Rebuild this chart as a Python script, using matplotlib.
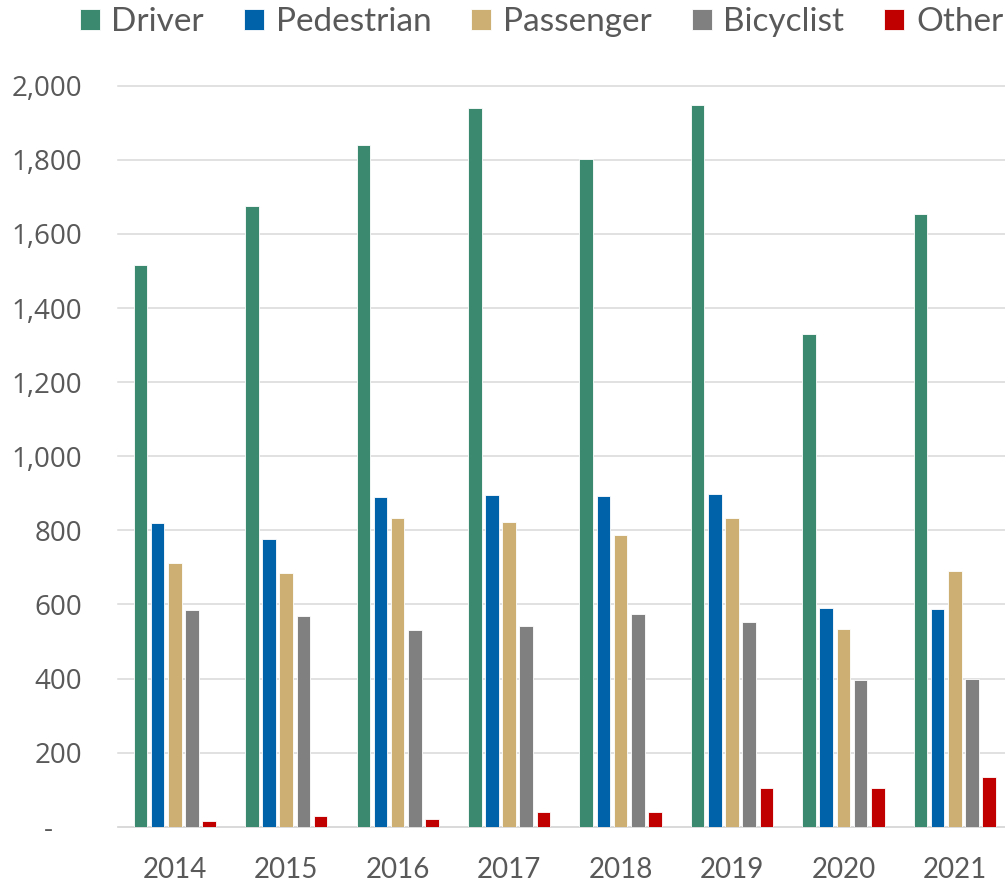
import numpy as np
import matplotlib
matplotlib.use("Agg")
import matplotlib.pyplot as plt
from matplotlib.ticker import FuncFormatter

years = ["2014", "2015", "2016", "2017", "2018", "2019", "2020", "2021"]
driver = [1517, 1675, 1840, 1940, 1802, 1949, 1329, 1655]
pedestrian = [820, 777, 890, 896, 892, 897, 590, 589]
passenger = [712, 684, 834, 822, 788, 832, 533, 689]
bicyclist = [584, 568, 531, 543, 573, 553, 397, 400]
other = [15, 28, 21, 40, 41, 104, 104, 134]

series = [("Driver", driver, "#3B8A70"),
          ("Pedestrian", pedestrian, "#0062A8"),
          ("Passenger", passenger, "#CDAF74"),
          ("Bicyclist", bicyclist, "#808080"),
          ("Other", other, "#C00000")]

grey = "#595959"
fig = plt.figure(figsize=(10.05, 8.84), dpi=100)
ax = fig.add_axes([0.1174, 0.0648, 0.8826, 0.8382])

x = np.arange(len(years))
pitch = 0.154
width = 0.122
for i, (name, vals, col) in enumerate(series):
    ax.bar(x + (i - 2) * pitch, vals, width, color=col, label=name,
           edgecolor="white", linewidth=0.6, zorder=3)

ax.set_xlim(-0.51, 7.45)
ax.set_ylim(0, 2000)
ax.set_yticks(np.arange(0, 2001, 200))
ax.yaxis.set_major_formatter(FuncFormatter(lambda v, p: "-    " if v == 0 else f"{v:,.0f}"))
ax.set_xticks(x)
ax.set_xticklabels(years)
ax.grid(axis="y", color="#D9D9D9", lw=1.1, zorder=0, clip_on=False)
for s in ["top", "right", "left"]:
    ax.spines[s].set_visible(False)
ax.spines["bottom"].set_color("#D9D9D9")
ax.spines["bottom"].set_linewidth(1.1)
ax.tick_params(axis="y", length=0, pad=26, labelsize=20, labelcolor=grey)
ax.tick_params(axis="x", length=0, pad=22, labelsize=20, labelcolor=grey)
for t in ax.get_yticklabels():
    t.set_fontfamily("Open Sans")
for t in ax.get_xticklabels():
    t.set_fontfamily("Lato")

fig.legend(loc="upper right", bbox_to_anchor=(1.028, 1.026), ncol=5, frameon=False,
           prop={"family": "Lato", "size": 24},
           labelcolor=grey, handlelength=0.6, handleheight=0.6, handletextpad=0.35,
           columnspacing=1.2)

fig.savefig("out.png", dpi=100)
